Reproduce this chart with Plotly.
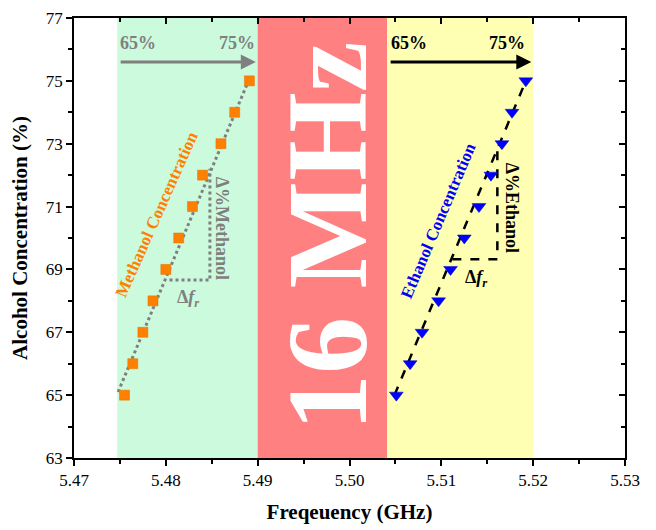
import plotly.graph_objects as go

# ---- data ----
conc = [65, 66, 67, 68, 69, 70, 71, 72, 73, 74, 75]
methanol_freq = [5.4755, 5.4764, 5.4775, 5.4786, 5.4800, 5.4814, 5.4829, 5.4840, 5.4860, 5.4875, 5.4891]
ethanol_freq = [5.5051, 5.5066, 5.5079, 5.5097, 5.5110, 5.5125, 5.5141, 5.5154, 5.5166, 5.5177, 5.5192]

methanol_fit_x = [5.4748, 5.4890]
methanol_fit_y = [65.1, 75.0]
ethanol_fit_x = [5.5049, 5.5192]
ethanol_fit_y = [65.0, 75.0]

methanol_tri_x = [5.4804, 5.4848, 5.4848]
methanol_tri_y = [68.66, 68.66, 72.2]
ethanol_tri_x = [5.5112, 5.5161, 5.5161]
ethanol_tri_y = [69.32, 69.32, 72.83]

bands = [(5.4747, 5.4900, "#CCFADC"), (5.4900, 5.5041, "#FF8080"), (5.5041, 5.5200, "#FFFFB3")]

x_ticks = [5.47, 5.48, 5.49, 5.50, 5.51, 5.52, 5.53]
y_ticks = [63, 65, 67, 69, 71, 73, 75, 77]

SERIF = "Liberation Serif"
GRAY = "#7F7F7F"

fig = go.Figure()

fig.add_trace(go.Scatter(x=methanol_fit_x, y=methanol_fit_y, mode="lines",
                         line=dict(color=GRAY, width=3, dash="dot"), showlegend=False))
fig.add_trace(go.Scatter(x=methanol_tri_x, y=methanol_tri_y, mode="lines",
                         line=dict(color=GRAY, width=3, dash="dot"), showlegend=False))
fig.add_trace(go.Scatter(x=methanol_freq, y=conc, mode="markers",
                         marker=dict(symbol="square", size=10, color="#FF8000",
                                     line=dict(color="#E07000", width=0.5)), showlegend=False))

fig.add_trace(go.Scatter(x=ethanol_fit_x, y=ethanol_fit_y, mode="lines",
                         line=dict(color="black", width=2.5, dash="dash"), showlegend=False))
fig.add_trace(go.Scatter(x=ethanol_tri_x, y=ethanol_tri_y, mode="lines",
                         line=dict(color="black", width=2.5, dash="dash"), showlegend=False))
fig.add_trace(go.Scatter(x=ethanol_freq, y=conc, mode="markers",
                         marker=dict(symbol="triangle-down", size=12, color="#0000FF",
                                     line=dict(color="#0000CC", width=0.5)), showlegend=False))

# invisible trace to activate the mirrored axes
fig.add_trace(go.Scatter(x=[5.47], y=[63], xaxis="x2", yaxis="y2", mode="markers",
                         marker=dict(opacity=0), showlegend=False, hoverinfo="skip"))

shapes = []
for x0, x1, c in bands:
    shapes.append(dict(type="rect", xref="x", yref="y domain", x0=x0, x1=x1, y0=0, y1=1,
                       fillcolor=c, line=dict(width=0), layer="below"))

ann = []
# arrows
ann.append(dict(x=5.4898, y=75.6, ax=5.4747, ay=75.6, xref="x", yref="y", axref="x", ayref="y",
                text=" ", showarrow=True, arrowhead=2, arrowsize=1, arrowwidth=3, arrowcolor=GRAY))
ann.append(dict(x=5.5198, y=75.6, ax=5.5041, ay=75.6, xref="x", yref="y", axref="x", ayref="y",
                text=" ", showarrow=True, arrowhead=2, arrowsize=1, arrowwidth=3, arrowcolor="black"))
for xx, t, c in [(5.4770, "65%", GRAY), (5.4877, "75%", GRAY), (5.5065, "65%", "black"), (5.5172, "75%", "black")]:
    ann.append(dict(x=xx, y=76.2, text="<b>%s</b>" % t, showarrow=False,
                    font=dict(family=SERIF, size=18, color=c)))

ann.append(dict(x=5.4790, y=70.75, text="<b>Methanol Concentration</b>", textangle=-66, showarrow=False,
                font=dict(family=SERIF, size=17, color="#FF8000")))
ann.append(dict(x=5.5097, y=70.55, text="<b>Ethanol Concentration</b>", textangle=-67, showarrow=False,
                font=dict(family=SERIF, size=17, color="#0000FF")))
ann.append(dict(x=5.4862, y=70.30, text="<b>Δ%Methanol</b>", textangle=90, showarrow=False,
                font=dict(family=SERIF, size=18, color=GRAY)))
ann.append(dict(x=5.5177, y=70.96, text="<b>Δ%Ethanol</b>", textangle=90, showarrow=False,
                font=dict(family=SERIF, size=18, color="black")))
ann.append(dict(x=5.4824, y=68.06, text="<b>Δ<i>f</i><sub><i>r</i></sub></b>", showarrow=False,
                font=dict(family=SERIF, size=18, color=GRAY)))
ann.append(dict(x=5.5138, y=68.72, text="<b>Δ<i>f</i><sub><i>r</i></sub></b>", showarrow=False,
                font=dict(family=SERIF, size=18, color="black")))
ann.append(dict(x=5.4976, y=70.05, text="<b>16 MHz</b>", textangle=-90, showarrow=False,
                font=dict(family=SERIF, size=114, color="white")))

axis_common = dict(showgrid=False, zeroline=False, linecolor="black", linewidth=1.5,
                   tickcolor="black", tickwidth=1.5, ticklen=6, automargin=False,
                   ticklabeloverflow="allow")

fig.update_layout(
    width=648, height=522,
    margin=dict(l=66, r=31, t=10, b=72, autoexpand=False),
    paper_bgcolor="white", plot_bgcolor="white",
    font=dict(family=SERIF, size=16, color="black"),
    shapes=shapes, annotations=ann,
    xaxis=dict(range=[5.47, 5.53], tickvals=x_ticks, ticktext=["%.2f" % v for v in x_ticks],
               ticks="outside", showline=True,
               minor=dict(dtick=0.005, tick0=5.47, ticks="outside", ticklen=4, tickcolor="black", tickwidth=1.5),
               tickfont=dict(family=SERIF, size=17, color="black"),
               title=dict(text="<b>Freqeuency (GHz)</b>", font=dict(family=SERIF, size=21, color="black")),
               **axis_common),
    yaxis=dict(range=[63, 77], tickvals=y_ticks, ticktext=[str(v) for v in y_ticks],
               ticks="outside", showline=True,
               minor=dict(dtick=1, tick0=63, ticks="outside", ticklen=4, tickcolor="black", tickwidth=1.5),
               tickfont=dict(family=SERIF, size=17, color="black"),
               title=dict(text="<b>Alcohol Concentration (%)</b>", font=dict(family=SERIF, size=21, color="black")),
               **axis_common),
    xaxis2=dict(range=[5.47, 5.53], overlaying="x", side="top", tickvals=x_ticks, showticklabels=False,
                ticks="inside", showline=True,
                minor=dict(dtick=0.005, tick0=5.47, ticks="inside", ticklen=4, tickcolor="black", tickwidth=1.5),
                **axis_common),
    yaxis2=dict(range=[63, 77], overlaying="y", side="right", tickvals=y_ticks, showticklabels=False,
                ticks="inside", showline=True,
                minor=dict(dtick=1, tick0=63, ticks="inside", ticklen=4, tickcolor="black", tickwidth=1.5),
                **axis_common),
)

fig.write_html("out.html")
